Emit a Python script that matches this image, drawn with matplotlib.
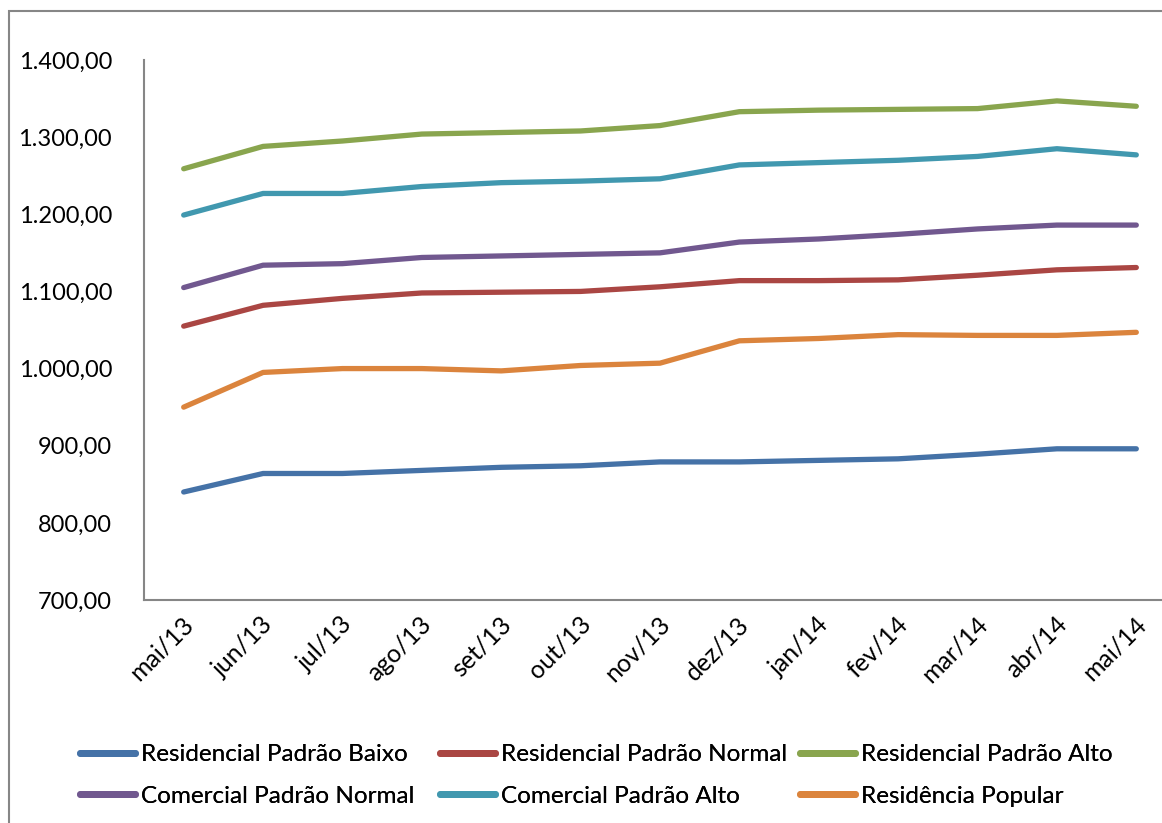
import matplotlib
matplotlib.use("Agg")
import matplotlib.pyplot as plt
from matplotlib.patches import Rectangle
from matplotlib.ticker import FuncFormatter
from matplotlib.transforms import ScaledTranslation

plt.rcParams['font.family'] = ['Lato', 'DejaVu Sans']

# meses (eixo x)
meses = ['mai/13', 'jun/13', 'jul/13', 'ago/13', 'set/13', 'out/13', 'nov/13',
         'dez/13', 'jan/14', 'fev/14', 'mar/14', 'abr/14', 'mai/14']

# valores por padrão
res_baixo = [840, 864, 864, 868, 872, 874, 879, 879, 881, 883, 889, 896, 896]
res_normal = [1055, 1082, 1091, 1098, 1099, 1100, 1106, 1114, 1114, 1115, 1121, 1128, 1131]
res_alto = [1259, 1288, 1295, 1304, 1306, 1308, 1315, 1333, 1335, 1336, 1337, 1347, 1340]
com_normal = [1105, 1134, 1136, 1144, 1146, 1148, 1150, 1164, 1168, 1174, 1181, 1186, 1186]
com_alto = [1199, 1227, 1227, 1236, 1241, 1243, 1246, 1264, 1267, 1270, 1275, 1285, 1277]
res_popular = [950, 995, 1000, 1000, 997, 1004, 1007, 1036, 1039, 1044, 1043, 1043, 1047]

series = [
    ('Residencial Padrão Baixo', res_baixo, '#4572A7'),
    ('Residencial Padrão Normal', res_normal, '#AA4643'),
    ('Residencial Padrão Alto', res_alto, '#89A54E'),
    ('Comercial Padrão Normal', com_normal, '#71588F'),
    ('Comercial Padrão Alto', com_alto, '#4198AF'),
    ('Residência Popular', res_popular, '#DB843D'),
]

W, H = 1162, 823
fig = plt.figure(figsize=(W / 100, H / 100), dpi=100)
ax = fig.add_axes([144 / W, 1 - 600 / H, 1032 / W, 540 / H])

# moldura externa do gráfico
fig.patches.append(Rectangle((9 / W, -0.1), 1.2, 1 - 11 / H + 0.1,
                             transform=fig.transFigure, fill=False,
                             edgecolor='#868686', linewidth=1.5))

x = list(range(len(meses)))
lines = {}
for nome, vals, cor in series:
    lines[nome], = ax.plot(x, vals, color=cor, linewidth=3.8,
                           solid_capstyle='round', solid_joinstyle='round', label=nome)

ax.set_xlim(-0.5, 12.5)
ax.set_ylim(700, 1400)
ax.set_yticks(range(700, 1401, 100))
ax.yaxis.set_major_formatter(FuncFormatter(
    lambda v, p: '{:,.2f}'.format(v).replace(',', 'X').replace('.', ',').replace('X', '.')))
ax.set_xticks(x)
ax.set_xticklabels(meses, rotation=45, ha='right', va='center', rotation_mode='anchor')
ax.tick_params(axis='y', length=0, pad=23, labelsize=17)
ax.tick_params(axis='x', length=0, pad=16, labelsize=18)
desloc = ScaledTranslation(6 / 100, 2 / 100, fig.dpi_scale_trans)
for lab in ax.get_xticklabels():
    lab.set_transform(lab.get_transform() + desloc)

for s in ['top', 'right']:
    ax.spines[s].set_visible(False)
for s in ['left', 'bottom']:
    ax.spines[s].set_color('#868686')
    ax.spines[s].set_linewidth(1.5)

# legenda: três colunas fixas, preenchidas por linha como no Excel
colunas = [
    (80, ['Residencial Padrão Baixo', 'Comercial Padrão Normal']),
    (440, ['Residencial Padrão Normal', 'Comercial Padrão Alto']),
    (800, ['Residencial Padrão Alto', 'Residência Popular']),
]
for xpix, nomes in colunas:
    leg = fig.legend([lines[n] for n in nomes], nomes, loc='center left',
                     bbox_to_anchor=(xpix / W, 1 - 775.5 / H), frameon=False,
                     fontsize=17.5, handlelength=2.26, handletextpad=0.25,
                     labelspacing=0.85, borderpad=0, borderaxespad=0)
    for h in leg.legend_handles:
        h.set_linewidth(5)
        h.set_solid_capstyle('round')
    fig.add_artist(leg)

fig.savefig('out.png', dpi=100)
